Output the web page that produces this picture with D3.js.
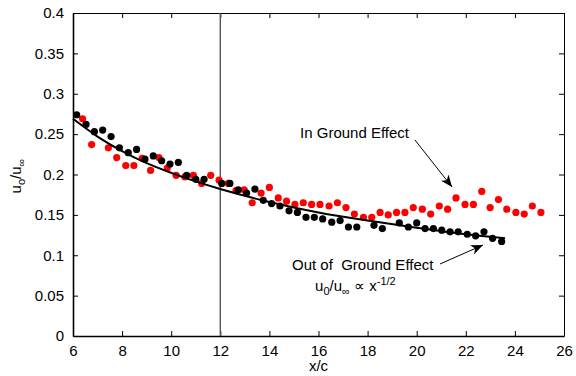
<!DOCTYPE html>
<html>
<head>
<meta charset="utf-8">
<script src="https://cdn.jsdelivr.net/npm/d3@7"></script>
<style>
  body { margin: 0; background: #fff; }
  text { font-family: Arial, "Liberation Sans", sans-serif; }
</style>
</head>
<body>
<div id="chart"></div>
<script>
// out of ground effect (black dots)
var blackX = [6.15,6.53,6.87,7.21,7.55,7.89,8.25,8.59,8.93,9.27,9.61,9.95,10.29,10.63,11.00,11.34,
  12.06,12.39,12.73,13.07,13.41,13.75,14.09,14.43,14.80,15.14,15.49,15.83,16.17,16.54,16.88,17.22,17.56,
  18.26,18.60,19.29,19.66,20.00,20.34,20.68,21.02,21.36,21.69,22.06,22.40,22.74,23.09,23.46];
var blackY = [0.274,0.262,0.253,0.255,0.247,0.233,0.227,0.231,0.219,0.223,0.217,0.213,0.215,0.199,0.194,0.194,
  0.189,0.189,0.181,0.177,0.182,0.168,0.164,0.161,0.155,0.153,0.147,0.147,0.145,0.141,0.143,0.135,0.135,
  0.137,0.133,0.140,0.135,0.140,0.133,0.133,0.131,0.129,0.129,0.126,0.124,0.129,0.121,0.117];

// in ground effect (red dots)
var redX = [6.39,6.76,7.44,7.78,8.15,8.48,8.82,9.16,9.50,9.84,10.20,10.56,10.90,11.24,11.61,11.95,12.33,
  12.64,12.97,13.30,13.66,14.00,14.36,14.70,15.04,15.38,15.72,16.06,16.43,16.77,17.12,17.46,17.83,18.17,
  18.51,18.84,19.18,19.52,19.86,20.23,20.57,20.92,21.26,21.60,21.97,22.31,22.65,22.99,23.33,23.67,24.04,
  24.38,24.71,25.06];
var redY = [0.269,0.237,0.233,0.221,0.211,0.211,0.220,0.205,0.221,0.208,0.199,0.197,0.199,0.189,0.199,0.193,0.189,
  0.180,0.181,0.165,0.177,0.184,0.171,0.167,0.163,0.165,0.163,0.163,0.161,0.165,0.159,0.151,0.147,0.147,
  0.153,0.150,0.153,0.153,0.159,0.157,0.151,0.161,0.157,0.171,0.163,0.163,0.179,0.159,0.169,0.157,0.153,
  0.151,0.161,0.153];

// fitted curve
var fitX = [6,7,8,9,10,12,14,16,18,20,22,23.6];
var fitY = [0.269,0.247,0.229,0.214,0.202,0.182,0.166,0.153,0.143,0.134,0.126,0.121];

var xTicks = [6,8,10,12,14,16,18,20,22,24,26];
var yTicks = [0,0.05,0.1,0.15,0.2,0.25,0.3,0.35,0.4];
var yTickLabels = ['0','0.05','0.1','0.15','0.2','0.25','0.3','0.35','0.4'];

var width = 576,
    height = 376,
    margin = {left:73, right:12, top:13, bottom:40};

var x = d3.scaleLinear().domain([6,26]).range([margin.left, width - margin.right]);
var y = d3.scaleLinear().domain([0,0.4]).range([height - margin.bottom, margin.top]);

var svg = d3.select('#chart')
  .append('svg')
  .attr('width', width)
  .attr('height', height)
  .style('background', '#fff');

var fontSize = 15;

// axes with inward ticks on all four sides
var bottomAxis = svg.append('g')
  .attr('transform', 'translate(0,' + y(0) + ')')
  .call(d3.axisBottom(x).tickValues(xTicks).tickSize(-5).tickSizeOuter(0).tickPadding(9));
var topAxis = svg.append('g')
  .attr('transform', 'translate(0,' + y(0.4) + ')')
  .call(d3.axisTop(x).tickValues(xTicks).tickSize(-5).tickSizeOuter(0).tickFormat(''));
var leftAxis = svg.append('g')
  .attr('transform', 'translate(' + x(6) + ',0)')
  .call(d3.axisLeft(y).tickValues(yTicks).tickSize(-5).tickSizeOuter(0).tickPadding(9)
    .tickFormat(function (d, i) { return yTickLabels[i]; }));
var rightAxis = svg.append('g')
  .attr('transform', 'translate(' + x(26) + ',0)')
  .call(d3.axisRight(y).tickValues(yTicks).tickSize(-5).tickSizeOuter(0).tickFormat(''));

svg.selectAll('.tick text')
  .attr('fill', '#000')
  .style('font-size', fontSize + 'px')
  .style('font-family', 'Arial, "Liberation Sans", sans-serif');
svg.selectAll('.tick line').attr('stroke', '#000');
bottomAxis.select('.domain').attr('stroke-width', 1.6);
leftAxis.select('.domain').attr('stroke-width', 1.6);

// vertical line at x/c = 12
svg.append('line')
  .attr('x1', x(12)).attr('x2', x(12))
  .attr('y1', y(0.4)).attr('y2', y(0))
  .attr('stroke', '#555')
  .attr('stroke-width', 1.4);

// red dots
svg.selectAll('circle.red').data(redX)
  .enter().append('circle')
  .attr('class', 'red')
  .attr('cx', function (d) { return x(d); })
  .attr('cy', function (d, i) { return y(redY[i]); })
  .attr('r', 3.6)
  .attr('fill', '#ff0000');

// black dots
svg.selectAll('circle.black').data(blackX)
  .enter().append('circle')
  .attr('class', 'black')
  .attr('cx', function (d) { return x(d); })
  .attr('cy', function (d, i) { return y(blackY[i]); })
  .attr('r', 3.6)
  .attr('fill', '#000');

// fitted curve
var line = d3.line()
  .x(function (d) { return x(d); })
  .y(function (d, i) { return y(fitY[i]); })
  .curve(d3.curveMonotoneX);
svg.append('path')
  .attr('d', line(fitX))
  .attr('fill', 'none')
  .attr('stroke', '#000')
  .attr('stroke-width', 2);

// axis titles
svg.append('text')
  .attr('x', (x(6) + x(26)) / 2)
  .attr('y', 371)
  .attr('text-anchor', 'middle')
  .style('font-size', fontSize + 'px')
  .text('x/c');

var ylab = svg.append('text')
  .attr('transform', 'translate(21,176) rotate(-90)')
  .attr('text-anchor', 'middle')
  .style('font-size', fontSize + 'px');
ylab.append('tspan').text('u');
ylab.append('tspan').attr('dy', 4).style('font-size', '11px').text('o');
ylab.append('tspan').attr('dy', -4).text('/u');
ylab.append('tspan').attr('dy', 4).style('font-size', '11px').text('\u221e');

// annotations
var defs = svg.append('defs');
defs.append('marker')
  .attr('id', 'head')
  .attr('markerUnits', 'userSpaceOnUse')
  .attr('viewBox', '0 0 12 10')
  .attr('refX', 12).attr('refY', 5)
  .attr('markerWidth', 12).attr('markerHeight', 10)
  .attr('orient', 'auto')
  .append('path')
  .attr('d', 'M0,0 L12,5 L0,10 L3.5,5 Z')
  .attr('fill', '#000');

svg.append('text')
  .attr('x', x(15.25)).attr('y', y(0.2455))
  .style('font-size', fontSize + 'px')
  .text('In Ground Effect');
svg.append('line')
  .attr('x1', x(19.93)).attr('y1', y(0.2427))
  .attr('x2', x(21.44)).attr('y2', y(0.1845))
  .attr('stroke', '#000').attr('stroke-width', 1)
  .attr('marker-end', 'url(#head)');

svg.append('text')
  .attr('x', x(14.92)).attr('y', y(0.082))
  .style('font-size', fontSize + 'px')
  .style('white-space', 'pre')
  .attr('xml:space', 'preserve')
  .text('Out of  Ground Effect');
svg.append('line')
  .attr('x1', x(20.95)).attr('y1', y(0.0892))
  .attr('x2', x(22.70)).attr('y2', y(0.1127))
  .attr('stroke', '#000').attr('stroke-width', 1)
  .attr('marker-end', 'url(#head)');

var formula = svg.append('text')
  .attr('x', x(15.86)).attr('y', y(0.056))
  .style('font-size', fontSize + 'px');
formula.append('tspan').text('u');
formula.append('tspan').attr('dy', 4).style('font-size', '11px').text('0');
formula.append('tspan').attr('dy', -4).text('/u');
formula.append('tspan').attr('dy', 4).style('font-size', '11px').text('\u221e');
formula.append('tspan').attr('dy', -4).text(' \u221d x');
formula.append('tspan').attr('dy', -6).style('font-size', '11px').text('-1/2');
</script>
</body>
</html>
